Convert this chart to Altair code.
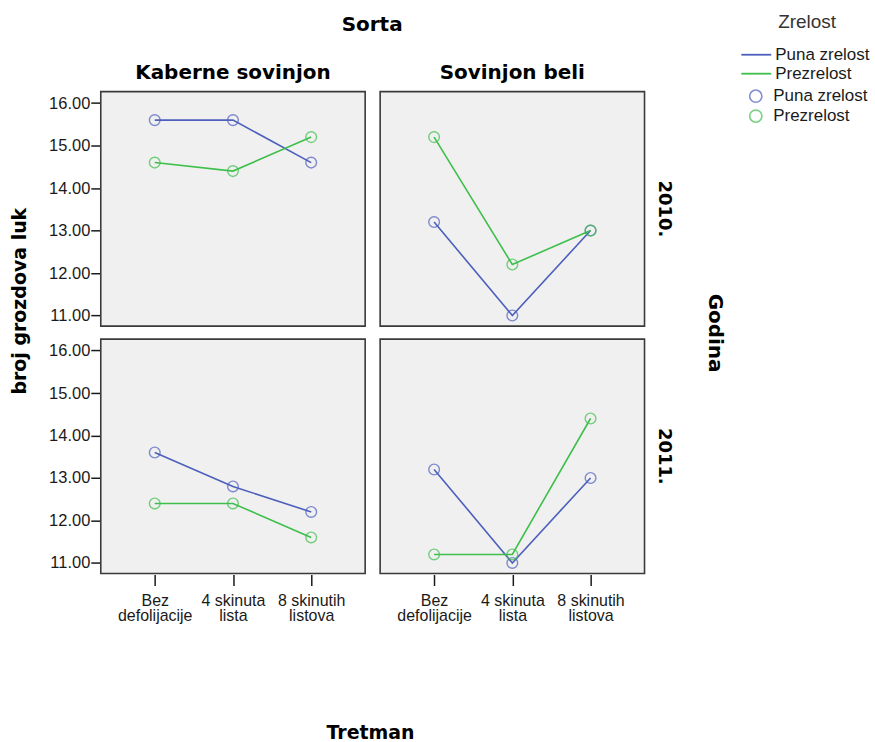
import altair as alt
import pandas as pd

treatments = ["Bez defolijacije", "4 skinuta lista", "8 skinutih listova"]
sorte = ["Kaberne sovinjon", "Sovinjon beli"]
godine = ["2010.", "2011."]
zrelost = ["Puna zrelost", "Prezrelost"]

kab_2010_puna = [15.6, 15.6, 14.6]
kab_2010_prez = [14.6, 14.4, 15.2]
sov_2010_puna = [13.2, 11.0, 13.0]
sov_2010_prez = [15.2, 12.2, 13.0]
kab_2011_puna = [13.6, 12.8, 12.2]
kab_2011_prez = [12.4, 12.4, 11.6]
sov_2011_puna = [13.2, 11.0, 13.0]
sov_2011_prez = [11.2, 11.2, 14.4]

series = [
    ("Kaberne sovinjon", "2010.", "Puna zrelost", kab_2010_puna),
    ("Kaberne sovinjon", "2010.", "Prezrelost", kab_2010_prez),
    ("Sovinjon beli", "2010.", "Puna zrelost", sov_2010_puna),
    ("Sovinjon beli", "2010.", "Prezrelost", sov_2010_prez),
    ("Kaberne sovinjon", "2011.", "Puna zrelost", kab_2011_puna),
    ("Kaberne sovinjon", "2011.", "Prezrelost", kab_2011_prez),
    ("Sovinjon beli", "2011.", "Puna zrelost", sov_2011_puna),
    ("Sovinjon beli", "2011.", "Prezrelost", sov_2011_prez),
]
rows = []
for s, g, z, vals in series:
    for t, v in zip(treatments, vals):
        rows.append({"Sorta": s, "Godina": g, "Zrelost": z, "Zrelost_p": z,
                     "Tretman": t, "Vrednost": v})
df = pd.DataFrame(rows)

colors = ["#4d5fbd", "#3dbf4b"]
FONT = "Liberation Sans"
BOLD = "DejaVu Sans"

x_enc = alt.X(
    "Tretman:N",
    sort=treatments,
    scale=alt.Scale(type="point", padding=0.69),
    axis=alt.Axis(
        title=None,
        labelAngle=0,
        labelExpr="[substring(datum.label, 0, lastindexof(datum.label, ' ')), substring(datum.label, lastindexof(datum.label, ' ') + 1)]",
        labelFont=FONT,
        labelFontSize=16,
        labelColor="#1a1a1a",
        labelLineHeight=15,
        labelPadding=7,
        tickSize=11,
        tickWidth=1.5,
        tickColor="#1a1a1a",
        domain=False,
        grid=False,
    ),
)
y_enc = alt.Y(
    "Vrednost:Q",
    scale=alt.Scale(domain=[10.75, 16.27], nice=False, zero=False),
    axis=alt.Axis(
        title=None,
        values=[11, 12, 13, 14, 15, 16],
        format=".2f",
        labelFont=FONT,
        labelFontSize=16.5,
        labelColor="#1a1a1a",
        labelPadding=1,
        tickSize=9,
        tickWidth=1.5,
        tickColor="#1a1a1a",
        domain=False,
        grid=False,
    ),
)

line = alt.Chart().mark_line(strokeWidth=1.6).encode(
    x=x_enc,
    y=y_enc,
    color=alt.Color(
        "Zrelost:N",
        scale=alt.Scale(domain=zrelost, range=colors),
        legend=alt.Legend(
            title="Zrelost",
            titleAnchor="middle",
            symbolType="M-1.5,0L1.5,0",
            symbolStrokeWidth=1.8,
            symbolSize=400,
            orient="none",
            legendX=646,
            legendY=-79,
            titleFont=FONT,
            titleFontSize=19,
            titleFontWeight="normal",
            titleColor="#333",
            labelFont=FONT,
            labelFontSize=17,
            labelColor="#1a1a1a",
            labelOffset=8,
            rowPadding=0,
            titlePadding=12,
        ),
    ),
    detail="Zrelost:N",
)

points = alt.Chart().mark_point(shape="circle", filled=False, size=115, strokeWidth=1.4).encode(
    x=x_enc,
    y=y_enc,
    stroke=alt.Stroke(
        "Zrelost_p:N",
        sort=zrelost,
        scale=alt.Scale(range=colors),
        legend=alt.Legend(
            title=None,
            symbolType="circle",
            symbolSize=150,
            symbolStrokeWidth=1.6,
            symbolFillColor="transparent",
            orient="none",
            legendX=648,
            legendY=-4,
            labelFont=FONT,
            labelFontSize=17,
            labelColor="#1a1a1a",
            labelOffset=9,
            rowPadding=1,
        ),
    ),
)

facet = (
    alt.layer(line, points, data=df)
    .properties(width=265, height=235)
    .facet(
        column=alt.Column(
            "Sorta:N",
            sort=sorte,
            header=alt.Header(
                title="Sorta",
                titleFont=BOLD,
                titleFontSize=20,
                titleFontWeight="bold",
                titlePadding=18,
                labelFont=BOLD,
                labelFontSize=20,
                labelFontWeight="bold",
                labelPadding=8,
            ),
        ),
        row=alt.Row(
            "Godina:N",
            sort=godine,
            header=alt.Header(
                title="Godina",
                titleOrient="right",
                titleAngle=90,
                titleFont=BOLD,
                titleFontSize=20,
                titleFontWeight="bold",
                titlePadding=22,
                labelOrient="right",
                labelAngle=90,
                labelFont=BOLD,
                labelFontSize=18,
                labelFontWeight="bold",
                labelPadding=10,
            ),
        ),
        spacing={"column": 13, "row": 11},
    )
    .properties(
        title=alt.TitleParams(
            "broj grozdova luk",
            orient="left",
            anchor="middle",
            font=BOLD,
            fontSize=19,
            fontWeight="bold",
            color="#000",
            offset=19,
            dx=18,
        )
    )
)

chart = (
    alt.vconcat(facet)
    .properties(
        title=alt.TitleParams(
            "Tretman",
            orient="bottom",
            anchor="middle",
            font=BOLD,
            fontSize=19,
            fontWeight="bold",
            color="#000",
            offset=101,
            dx=-70,
        ),
        padding={"left": 10, "top": 12, "right": 5, "bottom": 5},
        background="white",
    )
    .configure_view(fill="#f0f0f0", stroke="#3a3a3a", strokeWidth=1.6)
)

chart.save("out.html", embed_options={"renderer": "svg", "actions": False})
